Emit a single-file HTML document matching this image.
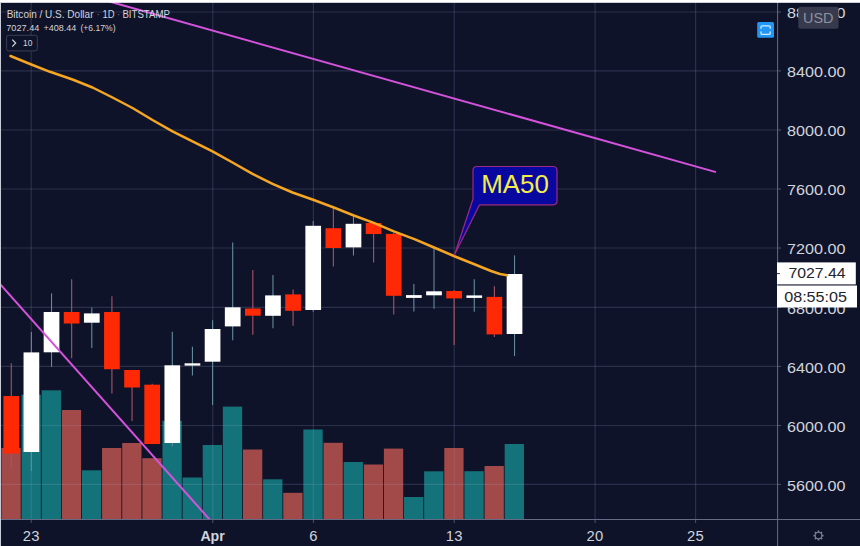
<!DOCTYPE html>
<html><head><meta charset="utf-8"><title>BTCUSD</title>
<style>
html,body{margin:0;padding:0;background:#0f1329;}
body{width:860px;height:546px;overflow:hidden;font-family:"Liberation Sans",sans-serif;}
svg{display:block;}
text{font-family:"Liberation Sans",sans-serif;}
</style></head><body>
<svg width="860" height="546" viewBox="0 0 860 546">
<rect x="0" y="0" width="860" height="546" fill="#0f1329"/>
<g stroke="rgba(125,130,175,0.25)" stroke-width="1.2" fill="none">
<line x1="0" y1="12.0" x2="777.5" y2="12.0"/>
<line x1="0" y1="70.9" x2="777.5" y2="70.9"/>
<line x1="0" y1="130.0" x2="777.5" y2="130.0"/>
<line x1="0" y1="189.0" x2="777.5" y2="189.0"/>
<line x1="0" y1="248.0" x2="777.5" y2="248.0"/>
<line x1="0" y1="307.4" x2="777.5" y2="307.4"/>
<line x1="0" y1="366.4" x2="777.5" y2="366.4"/>
<line x1="0" y1="425.5" x2="777.5" y2="425.5"/>
<line x1="0" y1="484.4" x2="777.5" y2="484.4"/>
<line x1="31.2" y1="0" x2="31.2" y2="519.4"/>
<line x1="212.8" y1="0" x2="212.8" y2="519.4"/>
<line x1="313.4" y1="0" x2="313.4" y2="519.4"/>
<line x1="454.2" y1="0" x2="454.2" y2="519.4"/>
<line x1="595.1" y1="0" x2="595.1" y2="519.4"/>
<line x1="695.6" y1="0" x2="695.6" y2="519.4"/>
</g>
<g>
<rect x="1.42" y="448.0" width="19.3" height="71.4" fill="#a24949"/>
<rect x="21.55" y="394.7" width="19.3" height="124.7" fill="#14737a"/>
<rect x="41.68" y="390.3" width="19.3" height="129.1" fill="#14737a"/>
<rect x="61.81" y="410.0" width="19.3" height="109.4" fill="#a24949"/>
<rect x="81.94" y="470.3" width="19.3" height="49.1" fill="#14737a"/>
<rect x="102.07" y="448.0" width="19.3" height="71.4" fill="#a24949"/>
<rect x="122.20" y="443.0" width="19.3" height="76.4" fill="#a24949"/>
<rect x="142.33" y="458.2" width="19.3" height="61.2" fill="#a24949"/>
<rect x="162.46" y="420.8" width="19.3" height="98.6" fill="#14737a"/>
<rect x="182.59" y="477.5" width="19.3" height="41.9" fill="#14737a"/>
<rect x="202.72" y="445.0" width="19.3" height="74.4" fill="#14737a"/>
<rect x="222.85" y="406.6" width="19.3" height="112.8" fill="#14737a"/>
<rect x="242.98" y="449.5" width="19.3" height="69.9" fill="#a24949"/>
<rect x="263.11" y="479.3" width="19.3" height="40.1" fill="#14737a"/>
<rect x="283.24" y="492.8" width="19.3" height="26.6" fill="#a24949"/>
<rect x="303.37" y="429.5" width="19.3" height="89.9" fill="#14737a"/>
<rect x="323.50" y="442.8" width="19.3" height="76.6" fill="#a24949"/>
<rect x="343.63" y="462.0" width="19.3" height="57.4" fill="#14737a"/>
<rect x="363.76" y="464.5" width="19.3" height="54.9" fill="#a24949"/>
<rect x="383.89" y="448.6" width="19.3" height="70.8" fill="#a24949"/>
<rect x="404.02" y="497.0" width="19.3" height="22.4" fill="#14737a"/>
<rect x="424.15" y="471.3" width="19.3" height="48.1" fill="#14737a"/>
<rect x="444.28" y="448.0" width="19.3" height="71.4" fill="#a24949"/>
<rect x="464.41" y="471.2" width="19.3" height="48.2" fill="#14737a"/>
<rect x="484.54" y="466.0" width="19.3" height="53.4" fill="#a24949"/>
<rect x="504.67" y="444.0" width="19.3" height="75.4" fill="#14737a"/>
</g>
<clipPath id="vc"><rect x="1.42" y="448.0" width="19.3" height="71.4"/><rect x="21.55" y="394.7" width="19.3" height="124.7"/><rect x="41.68" y="390.3" width="19.3" height="129.1"/><rect x="61.81" y="410.0" width="19.3" height="109.4"/><rect x="81.94" y="470.3" width="19.3" height="49.1"/><rect x="102.07" y="448.0" width="19.3" height="71.4"/><rect x="122.20" y="443.0" width="19.3" height="76.4"/><rect x="142.33" y="458.2" width="19.3" height="61.2"/><rect x="162.46" y="420.8" width="19.3" height="98.6"/><rect x="182.59" y="477.5" width="19.3" height="41.9"/><rect x="202.72" y="445.0" width="19.3" height="74.4"/><rect x="222.85" y="406.6" width="19.3" height="112.8"/><rect x="242.98" y="449.5" width="19.3" height="69.9"/><rect x="263.11" y="479.3" width="19.3" height="40.1"/><rect x="283.24" y="492.8" width="19.3" height="26.6"/><rect x="303.37" y="429.5" width="19.3" height="89.9"/><rect x="323.50" y="442.8" width="19.3" height="76.6"/><rect x="343.63" y="462.0" width="19.3" height="57.4"/><rect x="363.76" y="464.5" width="19.3" height="54.9"/><rect x="383.89" y="448.6" width="19.3" height="70.8"/><rect x="404.02" y="497.0" width="19.3" height="22.4"/><rect x="424.15" y="471.3" width="19.3" height="48.1"/><rect x="444.28" y="448.0" width="19.3" height="71.4"/><rect x="464.41" y="471.2" width="19.3" height="48.2"/><rect x="484.54" y="466.0" width="19.3" height="53.4"/><rect x="504.67" y="444.0" width="19.3" height="75.4"/></clipPath>
<g stroke="rgba(170,180,210,0.16)" stroke-width="1.2" fill="none" clip-path="url(#vc)">
<line x1="0" y1="425.5" x2="524" y2="425.5"/>
<line x1="0" y1="484.4" x2="524" y2="484.4"/>
<line x1="31.2" y1="390" x2="31.2" y2="519.4"/>
<line x1="212.8" y1="390" x2="212.8" y2="519.4"/>
<line x1="313.4" y1="390" x2="313.4" y2="519.4"/>
<line x1="454.2" y1="390" x2="454.2" y2="519.4"/>
</g>
<g>
<line x1="11.27" y1="363.3" x2="11.27" y2="468.5" stroke="#a85468" stroke-width="1.1"/>
<rect x="3.42" y="396.0" width="15.7" height="57.5" fill="#ff2a05"/>
<line x1="31.40" y1="332.0" x2="31.40" y2="471.0" stroke="#628c9c" stroke-width="1.1"/>
<rect x="23.55" y="352.4" width="15.7" height="99.6" fill="#ffffff"/>
<line x1="51.53" y1="293.3" x2="51.53" y2="366.9" stroke="#628c9c" stroke-width="1.1"/>
<rect x="43.68" y="312.0" width="15.7" height="40.3" fill="#ffffff"/>
<line x1="71.66" y1="279.2" x2="71.66" y2="358.2" stroke="#a85468" stroke-width="1.1"/>
<rect x="63.81" y="312.0" width="15.7" height="11.5" fill="#ff2a05"/>
<line x1="91.79" y1="307.4" x2="91.79" y2="348.1" stroke="#628c9c" stroke-width="1.1"/>
<rect x="83.94" y="313.4" width="15.7" height="9.3" fill="#ffffff"/>
<line x1="111.92" y1="296.3" x2="111.92" y2="393.6" stroke="#a85468" stroke-width="1.1"/>
<rect x="104.07" y="312.0" width="15.7" height="57.2" fill="#ff2a05"/>
<line x1="132.05" y1="370.0" x2="132.05" y2="421.0" stroke="#a85468" stroke-width="1.1"/>
<rect x="124.20" y="370.0" width="15.7" height="17.5" fill="#ff2a05"/>
<line x1="152.18" y1="383.7" x2="152.18" y2="444.0" stroke="#a85468" stroke-width="1.1"/>
<rect x="144.33" y="384.7" width="15.7" height="59.3" fill="#ff2a05"/>
<line x1="172.31" y1="331.7" x2="172.31" y2="446.3" stroke="#628c9c" stroke-width="1.1"/>
<rect x="164.46" y="365.3" width="15.7" height="77.7" fill="#ffffff"/>
<line x1="192.44" y1="346.8" x2="192.44" y2="375.5" stroke="#628c9c" stroke-width="1.1"/>
<rect x="184.59" y="363.3" width="15.7" height="2.3" fill="#ffffff"/>
<line x1="212.57" y1="320.2" x2="212.57" y2="405.0" stroke="#628c9c" stroke-width="1.1"/>
<rect x="204.72" y="329.0" width="15.7" height="32.7" fill="#ffffff"/>
<line x1="232.70" y1="242.5" x2="232.70" y2="340.3" stroke="#628c9c" stroke-width="1.1"/>
<rect x="224.85" y="307.3" width="15.7" height="19.1" fill="#ffffff"/>
<line x1="252.83" y1="270.0" x2="252.83" y2="334.7" stroke="#a85468" stroke-width="1.1"/>
<rect x="244.98" y="308.5" width="15.7" height="7.2" fill="#ff2a05"/>
<line x1="272.96" y1="275.0" x2="272.96" y2="328.3" stroke="#628c9c" stroke-width="1.1"/>
<rect x="265.11" y="295.4" width="15.7" height="20.4" fill="#ffffff"/>
<line x1="293.09" y1="289.4" x2="293.09" y2="325.7" stroke="#a85468" stroke-width="1.1"/>
<rect x="285.24" y="294.4" width="15.7" height="16.4" fill="#ff2a05"/>
<line x1="313.22" y1="221.0" x2="313.22" y2="311.8" stroke="#628c9c" stroke-width="1.1"/>
<rect x="305.37" y="225.8" width="15.7" height="84.2" fill="#ffffff"/>
<line x1="333.35" y1="208.0" x2="333.35" y2="266.5" stroke="#a85468" stroke-width="1.1"/>
<rect x="325.50" y="228.2" width="15.7" height="19.8" fill="#ff2a05"/>
<line x1="353.48" y1="216.2" x2="353.48" y2="255.5" stroke="#628c9c" stroke-width="1.1"/>
<rect x="345.63" y="223.8" width="15.7" height="23.6" fill="#ffffff"/>
<line x1="373.61" y1="222.0" x2="373.61" y2="262.5" stroke="#a85468" stroke-width="1.1"/>
<rect x="365.76" y="223.0" width="15.7" height="11.0" fill="#ff2a05"/>
<line x1="393.74" y1="233.0" x2="393.74" y2="314.6" stroke="#a85468" stroke-width="1.1"/>
<rect x="385.89" y="233.9" width="15.7" height="61.9" fill="#ff2a05"/>
<line x1="413.87" y1="284.0" x2="413.87" y2="311.5" stroke="#628c9c" stroke-width="1.1"/>
<rect x="406.02" y="295.1" width="15.7" height="2.8" fill="#ffffff"/>
<line x1="434.00" y1="247.7" x2="434.00" y2="308.8" stroke="#628c9c" stroke-width="1.1"/>
<rect x="426.15" y="291.3" width="15.7" height="4.0" fill="#ffffff"/>
<line x1="454.13" y1="290.0" x2="454.13" y2="345.0" stroke="#a85468" stroke-width="1.1"/>
<rect x="446.28" y="291.0" width="15.7" height="7.4" fill="#ff2a05"/>
<line x1="474.26" y1="279.2" x2="474.26" y2="311.8" stroke="#628c9c" stroke-width="1.1"/>
<rect x="466.41" y="295.4" width="15.7" height="2.5" fill="#ffffff"/>
<line x1="494.39" y1="286.3" x2="494.39" y2="336.9" stroke="#a85468" stroke-width="1.1"/>
<rect x="486.54" y="296.9" width="15.7" height="37.5" fill="#ff2a05"/>
<line x1="514.52" y1="255.4" x2="514.52" y2="356.0" stroke="#628c9c" stroke-width="1.1"/>
<rect x="506.67" y="274.0" width="15.7" height="60.0" fill="#ffffff"/>
</g>
<line x1="104" y1="0" x2="716" y2="172.1" stroke="#d452dc" stroke-width="2" stroke-linecap="butt"/>
<line x1="-2" y1="281.8" x2="209.7" y2="519.6" stroke="#d452dc" stroke-width="2"/>
<polyline points="10.5,56.0 31.3,64.5 50.0,71.8 72.5,79.5 92.5,87.5 112.5,97.5 132.5,108.0 152.5,120.0 172.5,131.3 192.5,141.3 212.5,151.3 232.5,162.5 252.5,173.8 272.5,183.8 292.5,192.5 313.8,200.0 333.8,207.5 353.8,215.5 373.8,222.8 393.8,231.3 415.0,239.3 434.0,247.5 453.8,256.0 475.0,264.5 491.0,271.0 500.0,274.0 507.0,275.2" fill="none" stroke="#f5a623" stroke-width="2.5" stroke-linejoin="round" stroke-linecap="round"/>
<path d="M477,166.5 H553 Q557,166.5 557,170.5 V200.8 Q557,204.8 553,204.8 H479.5 L454.5,254.8 L473,199 V170.5 Q473,166.5 477,166.5 Z" fill="#0808a0" stroke="#9a2a86" stroke-width="1.2" stroke-linejoin="round"/>
<text x="481.3" y="192.7" font-size="25" fill="#f3ec4a" textLength="67.6" lengthAdjust="spacingAndGlyphs">MA50</text>
<rect x="777.9" y="0" width="83" height="546" fill="#0f1329"/>
<rect x="0" y="519.9" width="860" height="27" fill="#0f1329"/>
<g stroke="#666b85" stroke-width="1" fill="none">
<line x1="777.6" y1="0" x2="777.6" y2="546"/>
<line x1="0" y1="519.5" x2="860" y2="519.5"/>
</g>
<g stroke="#666b85" stroke-width="1" fill="none" opacity="0.7">
<line x1="777" y1="12.0" x2="781" y2="12.0"/>
<line x1="777" y1="70.9" x2="781" y2="70.9"/>
<line x1="777" y1="130.0" x2="781" y2="130.0"/>
<line x1="777" y1="189.0" x2="781" y2="189.0"/>
<line x1="777" y1="248.0" x2="781" y2="248.0"/>
<line x1="777" y1="307.4" x2="781" y2="307.4"/>
<line x1="777" y1="366.4" x2="781" y2="366.4"/>
<line x1="777" y1="425.5" x2="781" y2="425.5"/>
<line x1="777" y1="484.4" x2="781" y2="484.4"/>
<line x1="31.2" y1="519" x2="31.2" y2="523"/>
<line x1="212.8" y1="519" x2="212.8" y2="523"/>
<line x1="313.4" y1="519" x2="313.4" y2="523"/>
<line x1="454.2" y1="519" x2="454.2" y2="523"/>
<line x1="595.1" y1="519" x2="595.1" y2="523"/>
<line x1="695.6" y1="519" x2="695.6" y2="523"/>
</g>
<g font-size="14.8" fill="#d1d4dc">
<text x="787" y="18.4" textLength="58.4" lengthAdjust="spacingAndGlyphs">8800.00</text>
<text x="787" y="77.3" textLength="58.4" lengthAdjust="spacingAndGlyphs">8400.00</text>
<text x="787" y="136.4" textLength="58.4" lengthAdjust="spacingAndGlyphs">8000.00</text>
<text x="787" y="195.4" textLength="58.4" lengthAdjust="spacingAndGlyphs">7600.00</text>
<text x="787" y="254.4" textLength="58.4" lengthAdjust="spacingAndGlyphs">7200.00</text>
<text x="787" y="313.8" textLength="58.4" lengthAdjust="spacingAndGlyphs">6800.00</text>
<text x="787" y="372.8" textLength="58.4" lengthAdjust="spacingAndGlyphs">6400.00</text>
<text x="787" y="431.9" textLength="58.4" lengthAdjust="spacingAndGlyphs">6000.00</text>
<text x="787" y="490.8" textLength="58.4" lengthAdjust="spacingAndGlyphs">5600.00</text>
</g>
<rect x="777" y="262.4" width="78.8" height="22" fill="#ffffff"/>
<rect x="777" y="285.5" width="80" height="22" fill="#ffffff"/>
<line x1="777" y1="273.6" x2="780" y2="273.6" stroke="#333" stroke-width="1"/>
<text x="788.4" y="278" font-size="14.5" fill="#22252e" textLength="57.2" lengthAdjust="spacingAndGlyphs">7027.44</text>
<text x="784.2" y="301.5" font-size="14.5" fill="#22252e" textLength="62.8" lengthAdjust="spacingAndGlyphs">08:55:05</text>
<rect x="798.3" y="6.8" width="40.2" height="22" rx="2" fill="#363a4c"/>
<text x="803" y="22.7" font-size="14.5" fill="#8d91a0" textLength="30.5" lengthAdjust="spacingAndGlyphs">USD</text>
<rect x="757.2" y="21.9" width="16.8" height="15.8" rx="1.5" fill="#2196f3"/>
<path d="M761,28.3 V27 Q761,25.8 762.2,25.8 H769 Q770.2,25.8 770.2,27 V28.3 M761,31.8 V33.2 Q761,34.4 762.2,34.4 H769 Q770.2,34.4 770.2,33.2 V31.8" fill="none" stroke="#d6ecff" stroke-width="1.3" stroke-linecap="round"/>
<g font-size="14.8" fill="#d1d4dc" text-anchor="middle" letter-spacing="0.3">
<text x="31.2" y="540.6">23</text>
<text x="313.4" y="540.6">6</text>
<text x="454.2" y="540.6">13</text>
<text x="595.1" y="540.6">20</text>
<text x="695.6" y="540.6">25</text>
<text x="212.6" y="541" font-weight="bold" font-size="14.2" letter-spacing="0">Apr</text>
</g>
<circle cx="818.5" cy="535.6" r="3.3" fill="none" stroke="#7d8296" stroke-width="1.1"/>
<path d="M821.90,535.60 L823.50,535.60 M820.90,538.00 L822.04,539.14 M818.50,539.00 L818.50,540.60 M816.10,538.00 L814.96,539.14 M815.10,535.60 L813.50,535.60 M816.10,533.20 L814.96,532.06 M818.50,532.20 L818.50,530.60 M820.90,533.20 L822.04,532.06" stroke="#7d8296" stroke-width="1.6" fill="none"/>
<g fill="#d1d4dc">
<text x="6.7" y="17.6" font-size="10" textLength="86.8" lengthAdjust="spacingAndGlyphs">Bitcoin / U.S. Dollar</text>
<text x="96.4" y="17.6" font-size="10" fill="#6a6f85">·</text>
<text x="102.5" y="17.6" font-size="10" textLength="12.1" lengthAdjust="spacingAndGlyphs">1D</text>
<text x="116.9" y="17.6" font-size="10" fill="#6a6f85">·</text>
<text x="122.4" y="17.6" font-size="10" textLength="47.5" lengthAdjust="spacingAndGlyphs">BITSTAMP</text>
<text x="6.3" y="31.2" font-size="9.5" textLength="33" lengthAdjust="spacingAndGlyphs">7027.44</text>
<text x="43.5" y="31.2" font-size="9.5" textLength="32.9" lengthAdjust="spacingAndGlyphs">+408.44</text>
<text x="80.5" y="31.2" font-size="9.5" textLength="35" lengthAdjust="spacingAndGlyphs">(+6.17%)</text>
</g>
<rect x="6.6" y="35.3" width="30.7" height="15.6" rx="2" fill="#0f1329" stroke="#3a3f58" stroke-width="1"/>
<path d="M12.3,39.6 L15.6,43.1 L12.3,46.6" fill="none" stroke="#d1d4dc" stroke-width="1.3"/>
<text x="23" y="46.4" font-size="9" fill="#d1d4dc" textLength="9.4" lengthAdjust="spacingAndGlyphs">10</text>
<rect x="0" y="0" width="860" height="2.8" fill="#ffffff"/>
<rect x="0" y="2.7" width="1" height="544" fill="#c9ccd6"/>
</svg>
</body></html>
